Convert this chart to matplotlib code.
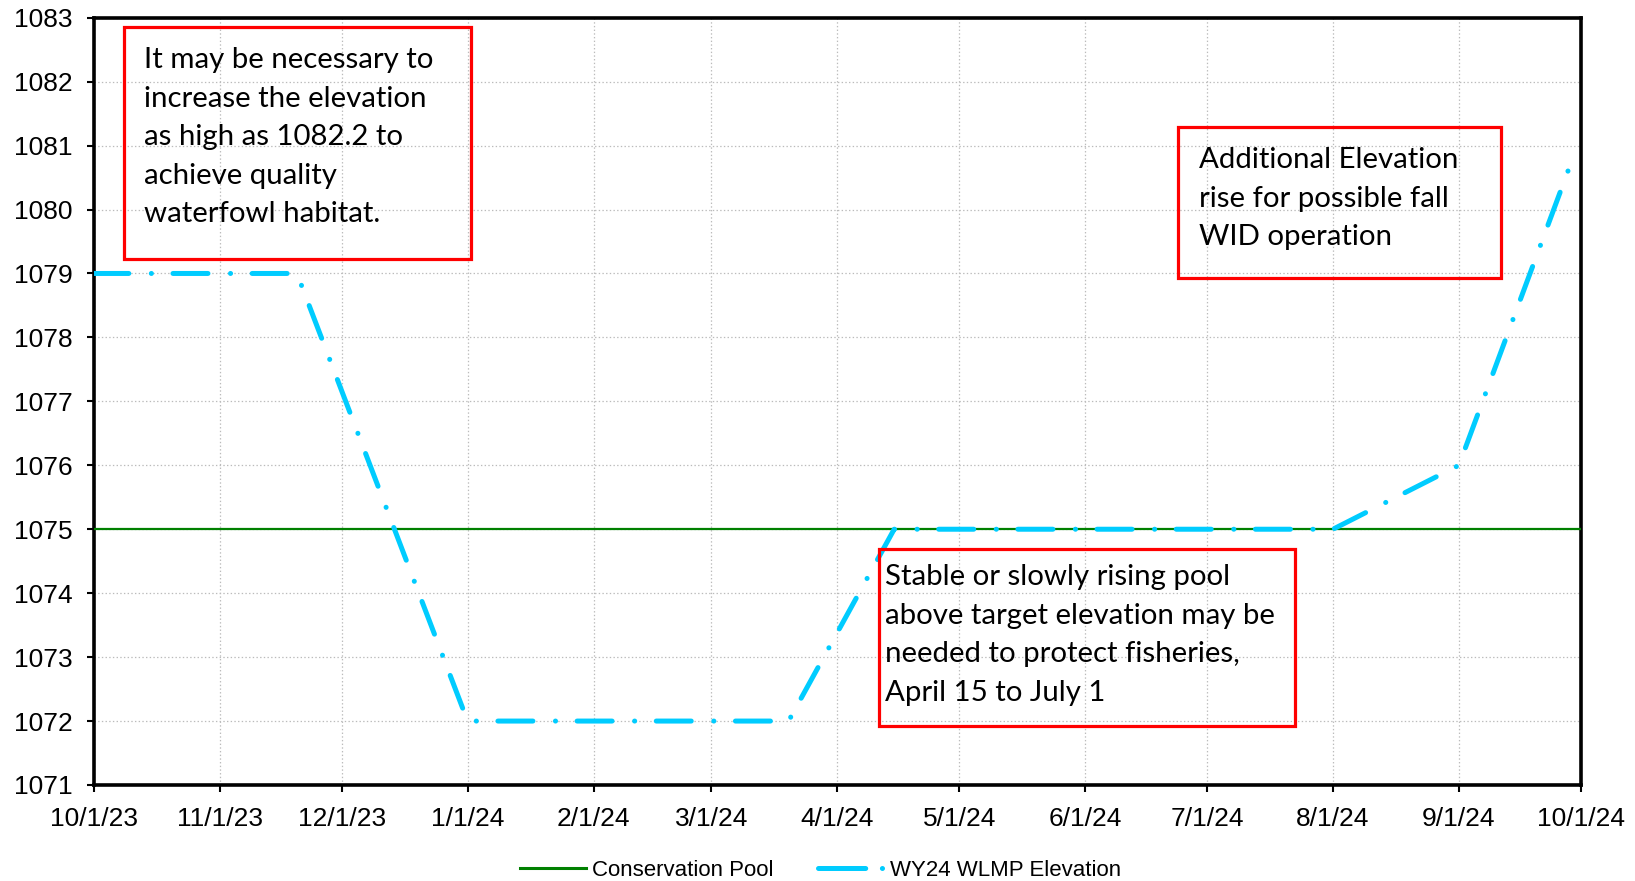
import matplotlib
matplotlib.use("Agg")
import matplotlib.pyplot as plt
from matplotlib.patches import Rectangle
from matplotlib.lines import Line2D
import datetime as dt

# ---- data ----
wlmp_dates = ["2023-10-01", "2023-11-20", "2024-01-01", "2024-03-20",
              "2024-04-15", "2024-08-01", "2024-09-01", "2024-09-29"]
wlmp_values = [1079, 1079, 1072, 1072, 1075, 1075, 1076, 1080.8]
pool_dates = ["2023-10-01", "2024-10-01"]
pool_values = [1075, 1075]
month_ticks = ["2023-10-01", "2023-11-01", "2023-12-01", "2024-01-01",
               "2024-02-01", "2024-03-01", "2024-04-01", "2024-05-01",
               "2024-06-01", "2024-07-01", "2024-08-01", "2024-09-01",
               "2024-10-01"]
month_labels = ["10/1/23", "11/1/23", "12/1/23", "1/1/24", "2/1/24", "3/1/24",
                "4/1/24", "5/1/24", "6/1/24", "7/1/24", "8/1/24", "9/1/24",
                "10/1/24"]
y_ticks = list(range(1071, 1084))

note1 = ["It may be necessary to", "increase the elevation",
         "as high as 1082.2 to", "achieve quality", "waterfowl habitat."]
note2 = ["Additional Elevation", "rise for possible fall", "WID operation"]
note3 = ["Stable or slowly rising pool", "above target elevation may be",
         "needed to protect fisheries,", "April 15 to July 1"]

def d(s):
    return dt.datetime.strptime(s, "%Y-%m-%d")

plt.rcParams["font.family"] = ["Liberation Sans", "DejaVu Sans"]
plt.rcParams["lines.scale_dashes"] = False

W, H = 1635, 881
fig = plt.figure(figsize=(W / 100, H / 100), dpi=100)
ax = fig.add_axes([93.8 / W, 1 - 785 / H, (1580.8 - 93.8) / W, (785 - 17.7) / H])

GREEN = "#008000"
CYAN = "#00CCFF"

ax.plot([d(s) for s in pool_dates], pool_values, color=GREEN, lw=1.6,
        label="Conservation Pool", zorder=3)
ln, = ax.plot([d(s) for s in wlmp_dates], wlmp_values, color=CYAN, lw=3.6,
              solid_capstyle="round", dash_capstyle="round",
              label="WY24 WLMP Elevation", zorder=4)
ln.set_dashes([25.2, 16.2, 0.1, 15.5])

ax.set_xlim(d("2023-10-01"), d("2024-10-01"))
ax.set_ylim(1071, 1083)
ax.set_yticks(y_ticks)
ax.set_xticks([d(s) for s in month_ticks])
ax.set_xticklabels(month_labels)
ax.tick_params(axis="both", labelsize=19, length=5, width=1.5, direction="out")
ax.tick_params(axis="y", pad=10)
ax.tick_params(axis="x", pad=10.5)
ax.grid(True, color="#BBBBBB", linestyle=":", lw=0.9)
ax.set_axisbelow(True)
for sp in ax.spines.values():
    sp.set_linewidth(2.6)
    sp.set_color("black")

h1 = Line2D([], [], color=GREEN, lw=2.2)
h2 = Line2D([], [], color=CYAN, lw=3.6, dash_capstyle="round")
h2.set_dashes([34, 12, 0.1, 100])
leg = fig.legend(handles=[h1, h2], labels=["Conservation Pool", "WY24 WLMP Elevation"],
                 loc="center", ncol=2,
                 bbox_to_anchor=(0.502, 1 - 870 / H), frameon=False,
                 fontsize=16, handlelength=2.95, columnspacing=2.0,
                 handletextpad=0.3)

def box(x0, y0, x1, y1):
    fig.patches.append(Rectangle((x0 / W, 1 - y1 / H), (x1 - x0) / W, (y1 - y0) / H,
                                 transform=fig.transFigure, fill=False,
                                 edgecolor="#FF0000", lw=2.3, zorder=5))

def note(lines, x, y0, step=38.6):
    for i, t in enumerate(lines):
        fig.text(x / W, 1 - (y0 + i * step) / H, t, family=["Lato", "DejaVu Sans"],
                 fontsize=21.2, va="baseline", ha="left", zorder=6)

box(124, 27, 471, 259)
note(note1, 144, 68)
box(1178, 127, 1501, 278)
note(note2, 1199, 168)
box(879, 549, 1295, 726)
note(note3, 885, 585)

fig.savefig("out.png", dpi=100)
